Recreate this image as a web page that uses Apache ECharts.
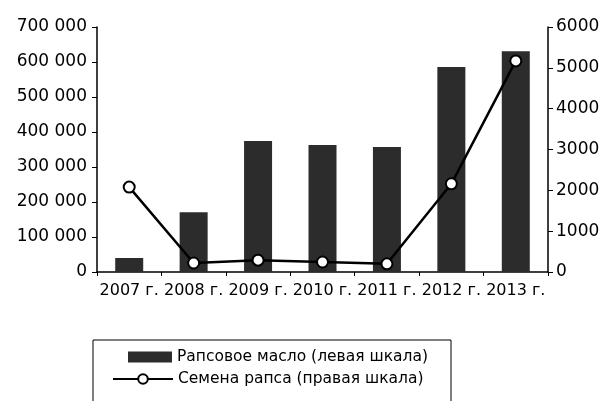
<!DOCTYPE html>
<html>
<head>
<meta charset="utf-8">
<script src="https://cdn.jsdelivr.net/npm/echarts@6/dist/echarts.min.js"></script>
<style>
  html, body { margin: 0; padding: 0; background: #fff; }
</style>
</head>
<body>
<div style="width:603px;height:401px;" id="rapeseed_chart"></div>
<script>
  // данные
  const years = ['2007 г.', '2008 г.', '2009 г.', '2010 г.', '2011 г.', '2012 г.', '2013 г.'];
  const oilValues = [40000, 171000, 374000, 363000, 357000, 586000, 631000];
  const seedValues = [2080, 220, 290, 245, 200, 2160, 5170];
  const oilName = 'Рапсовое масло (левая шкала)';
  const seedName = 'Семена рапса (правая шкала)';

  const font = '"DejaVu Sans", sans-serif';
  const spaced = function (v) {
    return String(v).replace(/\B(?=(\d{3})+(?!\d))/g, ' ');
  };
  const plain = function (v) {
    return String(v);
  };
  const axisLine = { show: true, lineStyle: { color: '#000', width: 1.5 } };

  const option = {
    animation: false,
    backgroundColor: '#fff',
    textStyle: { fontFamily: font },
    grid: { left: 97, right: 55, top: 27, bottom: 129 },
    legend: [
      {
        data: [{ name: oilName, icon: 'rect' }],
        left: 123,
        top: 344,
        itemWidth: 44,
        itemHeight: 11,
        itemGap: 5,
        textStyle: { color: '#000', fontSize: 15.5, fontFamily: font }
      },
      {
        data: [seedName],
        left: 107,
        top: 366,
        itemWidth: 60,
        itemHeight: 12,
        textStyle: { color: '#000', fontSize: 15.5, fontFamily: font }
      }
    ],
    graphic: [
      {
        type: 'rect',
        shape: { x: 93, y: 340, width: 358, height: 80 },
        style: { fill: 'none', stroke: '#000', lineWidth: 1 }
      }
    ],
    xAxis: {
      type: 'category',
      data: years,
      boundaryGap: true,
      axisLine: axisLine,
      axisTick: { show: true, length: 4, lineStyle: { color: '#000' } },
      axisLabel: { color: '#000', fontSize: 16, margin: 11, interval: 0 }
    },
    yAxis: [
      {
        type: 'value',
        min: 0,
        max: 700000,
        interval: 100000,
        splitLine: { show: false },
        axisLine: axisLine,
        axisTick: { show: true, length: 5, lineStyle: { color: '#000' } },
        axisLabel: { color: '#000', fontSize: 17, margin: 10, formatter: spaced }
      },
      {
        type: 'value',
        min: 0,
        max: 6000,
        interval: 1000,
        splitLine: { show: false },
        axisLine: axisLine,
        axisTick: { show: true, length: 5, lineStyle: { color: '#000' } },
        axisLabel: { color: '#000', fontSize: 17, margin: 8, formatter: plain }
      }
    ],
    series: [
      {
        name: oilName,
        type: 'bar',
        yAxisIndex: 0,
        barWidth: 28,
        data: oilValues,
        itemStyle: { color: '#2c2c2c' }
      },
      {
        name: seedName,
        type: 'line',
        yAxisIndex: 1,
        data: seedValues,
        z: 5,
        symbol: 'circle',
        symbolSize: 11,
        showAllSymbol: true,
        lineStyle: { color: '#000', width: 2.5 },
        itemStyle: { color: '#fff', borderColor: '#000', borderWidth: 2 }
      }
    ]
  };

  const chart = echarts.init(document.getElementById('rapeseed_chart'));
  chart.setOption(option);
  window.addEventListener('resize', function () {
    chart.resize();
  });
</script>
</body>
</html>
